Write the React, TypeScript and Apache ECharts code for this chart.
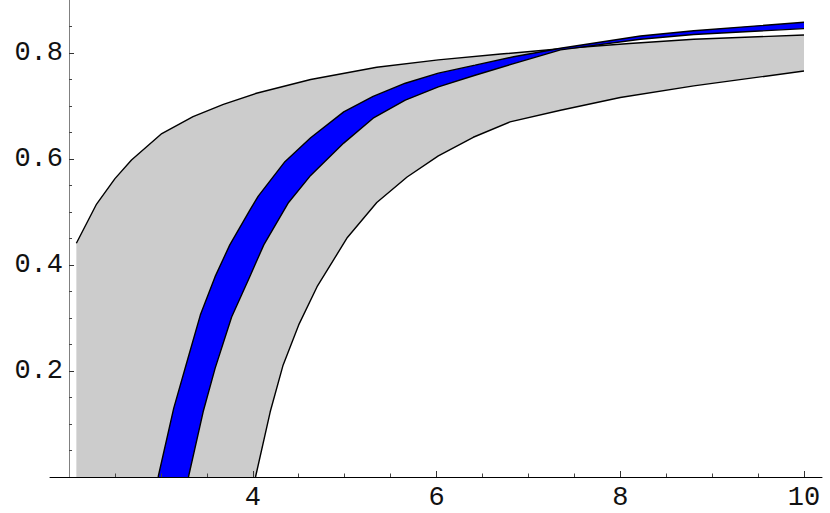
import React, { useEffect, useRef } from "react";
import * as echarts from "echarts";

// ---- data ----
const grayUpperX = [2.08, 2.3, 2.5, 2.68, 3.01, 3.35, 3.68, 4.04, 4.63, 5.35, 6.02, 6.7, 7.35, 8.1, 8.8, 10.0];
const grayUpperY = [0.441, 0.515, 0.563, 0.598, 0.648, 0.68, 0.703, 0.724, 0.75, 0.773, 0.787, 0.798, 0.808, 0.818, 0.826, 0.834];

const grayLowerX = [4.03, 4.19, 4.33, 4.5, 4.7, 5.03, 5.35, 5.68, 6.02, 6.4, 6.8, 7.35, 8.0, 8.8, 10.0];
const grayLowerY = [0, 0.123, 0.211, 0.287, 0.359, 0.452, 0.518, 0.566, 0.606, 0.641, 0.67, 0.692, 0.716, 0.738, 0.766];

const blueUpperX = [2.97, 3.14, 3.28, 3.43, 3.59, 3.75, 3.97, 4.06, 4.35, 4.63, 4.99, 5.31, 5.66, 6.02, 6.42, 6.84, 7.35, 8.22, 8.8, 10.0];
const blueUpperY = [0, 0.13, 0.215, 0.306, 0.378, 0.438, 0.504, 0.53, 0.595, 0.64, 0.689, 0.718, 0.743, 0.762, 0.777, 0.793, 0.809, 0.832, 0.842, 0.858];

const blueLowerX = [3.3, 3.46, 3.59, 3.77, 3.96, 4.12, 4.39, 4.63, 4.99, 5.31, 5.66, 6.02, 6.42, 6.84, 7.35, 8.22, 8.8, 10.0];
const blueLowerY = [0, 0.123, 0.205, 0.302, 0.375, 0.438, 0.518, 0.569, 0.63, 0.677, 0.711, 0.736, 0.758, 0.78, 0.806, 0.826, 0.835, 0.846];

const xMajorTicks = [4, 6, 8, 10];
const xMinorTicks = [2.5, 3, 3.5, 4.5, 5, 5.5, 6.5, 7, 7.5, 8.5, 9, 9.5];
const yMajorTicks = [0.2, 0.4, 0.6, 0.8];
const yMajorLabels = ["0.2", "0.4", "0.6", "0.8"];
const yMinorTicks = [0.05, 0.1, 0.15, 0.25, 0.3, 0.35, 0.45, 0.5, 0.55, 0.65, 0.7, 0.75, 0.85];

// axis ranges
const X_MIN = 1.793;
const X_MAX = 10.196;
const Y_MIN = 0;
const Y_MAX = 0.9;
const ORIGIN_X = 2;

const pairs = (xs: number[], ys: number[]) => xs.map((x, i) => [x, ys[i]]);

const FONT = "'Liberation Mono', 'Courier New', monospace";

export default function App() {
  const ref = useRef<HTMLDivElement>(null);

  useEffect(() => {
    if (!ref.current) return;
    const chart = echarts.init(ref.current, undefined, { renderer: "svg" });

    const gUp = pairs(grayUpperX, grayUpperY);
    const gLo = pairs(grayLowerX, grayLowerY);
    const bUp = pairs(blueUpperX, blueUpperY);
    const bLo = pairs(blueLowerX, blueLowerY);

    const gridLeft = 50;
    const gridRight = 8;
    const gridWidth = 830 - gridLeft - gridRight;
    const yAxisOffset = -((ORIGIN_X - X_MIN) / (X_MAX - X_MIN)) * gridWidth;

    const lineStyle = { color: "#000", width: 1.4 };

    const bandSeries = (upper: number[][], lower: number[][], closing: number[][], color: string, z: number) => ({
      type: "custom",
      coordinateSystem: "cartesian2d",
      xAxisIndex: 0,
      yAxisIndex: 0,
      z,
      silent: true,
      data: [0],
      renderItem: (params: any, api: any) => {
        if (params.dataIndex !== 0) return null;
        const pts = [
          ...upper.map((p) => api.coord(p)),
          ...lower.slice().reverse().map((p) => api.coord(p)),
          ...closing.map((p) => api.coord(p)),
        ];
        return {
          type: "polygon",
          shape: { points: pts },
          style: { fill: color, stroke: "none" },
        };
      },
    });

    const edge = (data: number[][], z: number) => ({
      type: "line",
      xAxisIndex: 0,
      yAxisIndex: 0,
      data,
      z,
      symbol: "none",
      showSymbol: false,
      silent: true,
      lineStyle,
    });

    const option: any = {
      animation: false,
      backgroundColor: "#fff",
      grid: { left: gridLeft, right: gridRight, top: 0, bottom: 36, containLabel: false },
      xAxis: [
        {
          type: "value",
          min: X_MIN,
          max: X_MAX,
          position: "bottom",
          z: 10,
          axisLine: { show: true, onZero: false, lineStyle: { color: "#000", width: 1 } },
          axisTick: { show: true, inside: true, length: 6, customValues: xMajorTicks, lineStyle: { color: "#333", width: 1 } },
          axisLabel: {
            show: true,
            customValues: xMajorTicks,
            formatter: (v: number) => String(v),
            fontFamily: FONT,
            fontSize: 27,
            color: "#111",
            margin: 7,
          },
          splitLine: { show: false },
        },
        {
          type: "value",
          min: X_MIN,
          max: X_MAX,
          position: "bottom",
          z: 10,
          axisLine: { show: false, onZero: false },
          axisTick: { show: true, inside: true, length: 3.5, customValues: xMinorTicks, lineStyle: { color: "#444", width: 1 } },
          axisLabel: { show: false },
          splitLine: { show: false },
        },
      ],
      yAxis: [
        {
          type: "value",
          min: Y_MIN,
          max: Y_MAX,
          position: "left",
          offset: yAxisOffset,
          z: 10,
          axisLine: { show: true, onZero: false, lineStyle: { color: "#808080", width: 1 } },
          axisTick: { show: true, inside: true, length: 5, customValues: yMajorTicks, lineStyle: { color: "#333", width: 1 } },
          axisLabel: {
            show: true,
            customValues: yMajorTicks,
            formatter: (v: number) => yMajorLabels[yMajorTicks.indexOf(v)] ?? String(v),
            fontFamily: FONT,
            fontSize: 27,
            color: "#111",
            margin: 6,
          },
          splitLine: { show: false },
        },
        {
          type: "value",
          min: Y_MIN,
          max: Y_MAX,
          position: "left",
          offset: yAxisOffset,
          z: 10,
          axisLine: { show: false, onZero: false },
          axisTick: { show: true, inside: true, length: 3, customValues: yMinorTicks, lineStyle: { color: "#444", width: 1 } },
          axisLabel: { show: false },
          splitLine: { show: false },
        },
      ],
      series: [
        bandSeries(gUp, gLo, [[grayUpperX[0], Y_MIN]], "#cccccc", 1),
        edge(gUp, 2),
        edge(gLo, 2),
        bandSeries(bUp, bLo, [], "#0000ff", 3),
        edge(bUp, 4),
        edge(bLo, 4),
      ],
    };

    chart.setOption(option);
    return () => chart.dispose();
  }, []);

  return (
    <div
      ref={ref}
      style={{ position: "fixed", left: 0, top: 0, width: 830, height: 513, background: "#fff" }}
    />
  );
}
